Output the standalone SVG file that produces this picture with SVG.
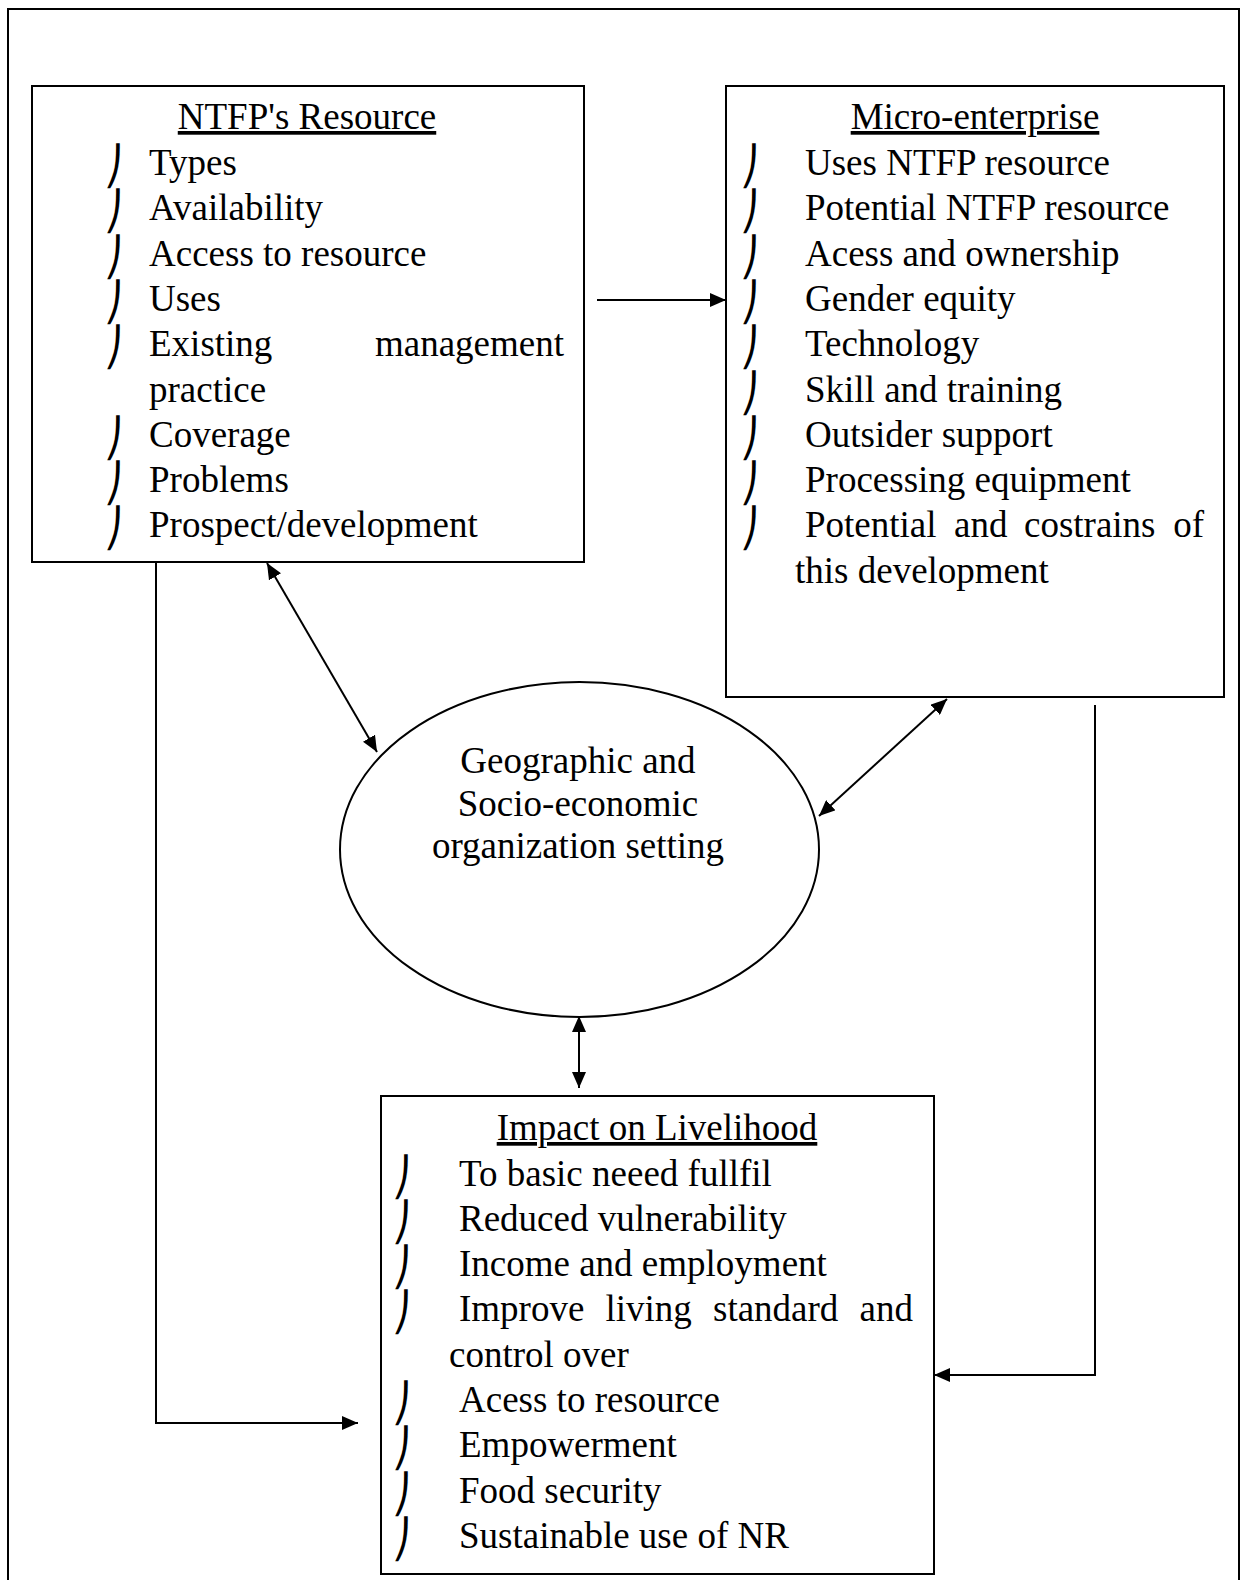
<svg xmlns="http://www.w3.org/2000/svg" width="1248" height="1580" viewBox="0 0 1248 1580">
<style>
.t{font-family:"Liberation Serif","Times New Roman",serif;font-size:37px;fill:#000}
.h{text-anchor:middle;text-decoration:underline}
.c{text-anchor:middle}
.e{text-anchor:end}
.b{font-family:"DejaVu Sans",sans-serif;font-size:38px;fill:#000}
.box{fill:#fff;stroke:#000;stroke-width:2}
.ln{fill:none;stroke:#000;stroke-width:2}
</style>
<defs>
<marker id="ah" markerUnits="userSpaceOnUse" markerWidth="16" markerHeight="14" refX="16" refY="7" orient="auto-start-reverse" viewBox="0 0 16 14">
<path d="M0,0 L16,7 L0,14 z" fill="#000"/>
</marker>
</defs>
<rect x="0" y="0" width="1248" height="1580" fill="#fff"/>
<path d="M8,1590 V9 H1239 V1590" class="ln"/>

<g id="ntfp">
<rect x="32" y="86" width="552" height="476" class="box"/>
<text class="t h" x="307" y="129">NTFP's Resource</text>
<g class="b" transform="translate(-2,4)">
<text x="106" y="175">⎠</text>
<text x="106" y="220.3">⎠</text>
<text x="106" y="265.6">⎠</text>
<text x="106" y="310.9">⎠</text>
<text x="106" y="356.2">⎠</text>
<text x="106" y="446.8">⎠</text>
<text x="106" y="492.1">⎠</text>
<text x="106" y="537.4">⎠</text>
</g>
<text class="t" x="149" y="175">Types</text>
<text class="t" x="149" y="220.3">Availability</text>
<text class="t" x="149" y="265.6">Access to resource</text>
<text class="t" x="149" y="310.9">Uses</text>
<text class="t" x="149" y="356.2">Existing</text>
<text class="t e" x="564" y="356.2">management</text>
<text class="t" x="149" y="401.5">practice</text>
<text class="t" x="149" y="446.8">Coverage</text>
<text class="t" x="149" y="492.1">Problems</text>
<text class="t" x="149" y="537.4">Prospect/development</text>
</g>

<g id="micro">
<rect x="726" y="86" width="498" height="611" class="box"/>
<text class="t h" x="975" y="129">Micro-enterprise</text>
<g class="b" transform="translate(-2,4)">
<text x="742" y="175">⎠</text>
<text x="742" y="220.3">⎠</text>
<text x="742" y="265.6">⎠</text>
<text x="742" y="310.9">⎠</text>
<text x="742" y="356.2">⎠</text>
<text x="742" y="401.5">⎠</text>
<text x="742" y="446.8">⎠</text>
<text x="742" y="492.1">⎠</text>
<text x="742" y="537.4">⎠</text>
</g>
<text class="t" x="805" y="175">Uses NTFP resource</text>
<text class="t" x="805" y="220.3">Potential NTFP resource</text>
<text class="t" x="805" y="265.6">Acess and ownership</text>
<text class="t" x="805" y="310.9">Gender equity</text>
<text class="t" x="805" y="356.2">Technology</text>
<text class="t" x="805" y="401.5">Skill and training</text>
<text class="t" x="805" y="446.8">Outsider support</text>
<text class="t" x="805" y="492.1">Processing equipment</text>
<text class="t" x="805" y="537.4">Potential</text>
<text class="t" x="954" y="537.4">and</text>
<text class="t" x="1024" y="537.4">costrains</text>
<text class="t e" x="1204" y="537.4">of</text>
<text class="t" x="795" y="582.7">this development</text>
</g>

<g id="setting">
<ellipse cx="579.5" cy="849.5" rx="239.5" ry="167.5" class="box"/>
<text class="t c" x="578" y="773">Geographic and</text>
<text class="t c" x="578" y="816">Socio-economic</text>
<text class="t c" x="578" y="858">organization setting</text>
</g>

<g id="impact">
<rect x="381" y="1096" width="553" height="478" class="box"/>
<text class="t h" x="657" y="1140">Impact on Livelihood</text>
<g class="b" transform="translate(-2,4)">
<text x="394" y="1185.5">⎠</text>
<text x="394" y="1230.8">⎠</text>
<text x="394" y="1276.1">⎠</text>
<text x="394" y="1321.4">⎠</text>
<text x="394" y="1412">⎠</text>
<text x="394" y="1457.3">⎠</text>
<text x="394" y="1502.6">⎠</text>
<text x="394" y="1547.9">⎠</text>
</g>
<text class="t" x="459" y="1185.5">To basic neeed fullfil</text>
<text class="t" x="459" y="1230.8">Reduced vulnerability</text>
<text class="t" x="459" y="1276.1">Income and employment</text>
<text class="t" x="459" y="1321.4">Improve</text>
<text class="t" x="605.5" y="1321.4">living</text>
<text class="t" x="713" y="1321.4">standard</text>
<text class="t e" x="913" y="1321.4">and</text>
<text class="t" x="449" y="1366.7">control over</text>
<text class="t" x="459" y="1412">Acess to resource</text>
<text class="t" x="459" y="1457.3">Empowerment</text>
<text class="t" x="459" y="1502.6">Food security</text>
<text class="t" x="459" y="1547.9">Sustainable use of NR</text>
</g>

<g id="connectors">
<line x1="597" y1="300" x2="726" y2="300" class="ln" marker-end="url(#ah)"/>
<line x1="267" y1="563" x2="377" y2="752" class="ln" marker-start="url(#ah)" marker-end="url(#ah)"/>
<line x1="947" y1="699" x2="819" y2="816" class="ln" marker-start="url(#ah)" marker-end="url(#ah)"/>
<line x1="579" y1="1016" x2="579" y2="1088" class="ln" marker-start="url(#ah)" marker-end="url(#ah)"/>
<polyline points="156,562 156,1423 358,1423" class="ln" marker-end="url(#ah)"/>
<polyline points="1095,705 1095,1375 934,1375" class="ln" marker-end="url(#ah)"/>
</g>
</svg>
